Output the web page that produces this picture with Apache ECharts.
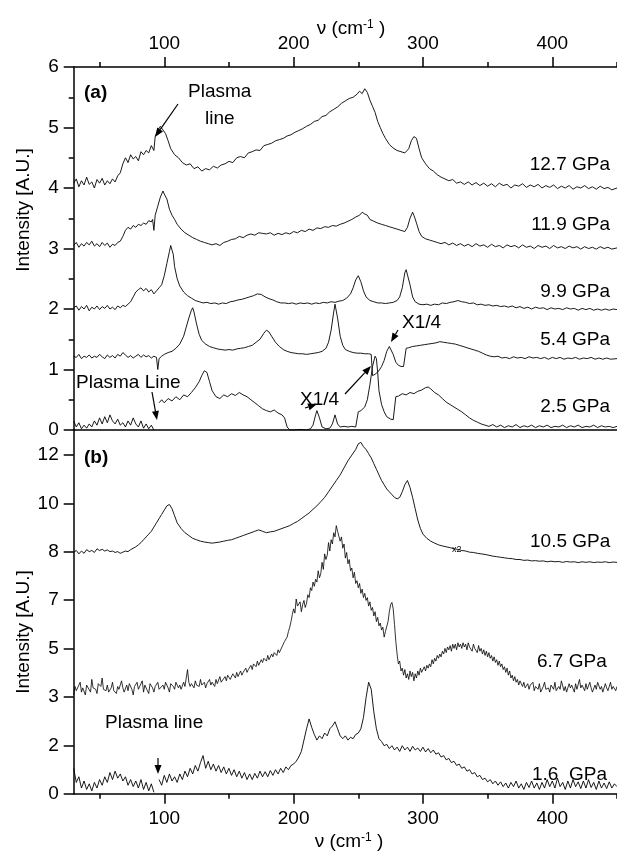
<!DOCTYPE html>
<html><head><meta charset="utf-8">
<script src="https://cdn.jsdelivr.net/npm/echarts@6/dist/echarts.min.js"></script>
<style>html,body{margin:0;padding:0;background:#fff}#c{width:617px;height:853px}</style>
</head><body><div id="c"></div>
<script>
// ---------- axis ticks ----------
const xMajor = [100, 200, 300, 400];
const xMinor = [50, 150, 250, 350, 450];
const yTicksB = [0, 1.714, 3.429, 5.143, 6.857, 8.571, 10.286, 12];
const yLabelsB = ['0', '2', '3', '5', '7', '8', '10', '12'];

// ---------- panel (a) spectra [ν, intensity] ----------
const s127 = [[30,4.08],[32,4.15],[34,4.02],[36,4.12],[38,4.05],[40,4.18],[42,4.06],[44,4.1],[46,4.0],[48,4.14],[50,4.08],[52,4.16],[54,4.05],[56,4.12],[58,4.07],[60,4.15],[62,4.1],[64,4.2],[66,4.25],[68,4.4],[70,4.5],[72,4.42],[74,4.55],[76,4.48],[78,4.52],[80,4.45],[82,4.6],[84,4.55],[86,4.62],[88,4.58],[90,4.7],[92,4.62],[93,4.85],[95,4.95],[97,5.02],[99,4.96],[101,4.9],[103,4.78],[105,4.65],[108,4.55],[111,4.5],[114,4.42],[117,4.38],[120,4.4],[123,4.32],[126,4.35],[129,4.28],[132,4.32],[135,4.3],[138,4.36],[141,4.33],[144,4.38],[147,4.4],[150,4.44],[153,4.42],[156,4.5],[159,4.52],[162,4.5],[165,4.58],[168,4.6],[171,4.63],[174,4.62],[177,4.7],[180,4.72],[183,4.74],[186,4.78],[189,4.8],[192,4.82],[195,4.86],[198,4.88],[201,4.92],[204,4.95],[207,4.98],[210,5.02],[213,5.05],[216,5.1],[219,5.12],[222,5.18],[225,5.2],[228,5.26],[231,5.3],[234,5.34],[237,5.4],[240,5.44],[243,5.48],[246,5.5],[249,5.55],[251,5.6],[253,5.56],[255,5.64],[257,5.58],[259,5.45],[261,5.35],[263,5.25],[265,5.1],[267,5.0],[269,4.9],[271,4.82],[274,4.72],[277,4.66],[280,4.62],[283,4.6],[286,4.58],[289,4.65],[291,4.78],[293,4.85],[295,4.82],[297,4.65],[299,4.5],[302,4.4],[305,4.32],[308,4.28],[311,4.22],[314,4.18],[317,4.15],[320,4.12],[323,4.14],[326,4.08],[329,4.1],[332,4.06],[335,4.1],[338,4.05],[341,4.09],[344,4.04],[347,4.08],[350,4.03],[353,4.07],[356,4.02],[359,4.08],[362,4.04],[365,4.06],[368,4.0],[371,4.05],[374,4.03],[377,4.07],[380,4.01],[383,4.05],[386,4.02],[389,4.06],[392,4.0],[395,4.04],[398,4.01],[401,4.05],[404,3.99],[407,4.03],[410,4.0],[413,4.04],[416,3.98],[419,4.02],[422,4.0],[425,4.04],[428,3.99],[431,4.02],[434,3.98],[437,4.03],[440,3.99],[443,4.01],[446,3.97],[450,4.0]];
const s119 = [[30,3.05],[32,3.1],[34,3.02],[36,3.08],[38,3.04],[40,3.1],[42,3.06],[44,3.12],[46,3.04],[48,3.08],[50,3.03],[52,3.1],[54,3.05],[56,3.09],[58,3.02],[60,3.07],[62,3.05],[64,3.1],[66,3.12],[68,3.2],[70,3.3],[72,3.35],[74,3.32],[76,3.38],[78,3.35],[80,3.4],[82,3.38],[84,3.42],[86,3.4],[88,3.46],[90,3.44],[91,3.48],[92,3.3],[93,3.55],[95,3.7],[97,3.85],[99,3.95],[100,3.9],[102,3.82],[104,3.65],[106,3.55],[108,3.48],[110,3.4],[113,3.32],[116,3.26],[119,3.22],[122,3.18],[125,3.15],[128,3.12],[131,3.1],[134,3.08],[137,3.06],[140,3.08],[143,3.05],[146,3.1],[149,3.12],[152,3.15],[155,3.16],[158,3.2],[161,3.18],[164,3.22],[167,3.24],[170,3.22],[173,3.26],[176,3.25],[179,3.24],[182,3.26],[185,3.22],[188,3.25],[191,3.23],[194,3.26],[197,3.24],[200,3.28],[203,3.26],[206,3.3],[209,3.28],[212,3.32],[215,3.3],[218,3.34],[221,3.33],[224,3.36],[227,3.35],[230,3.38],[233,3.37],[236,3.4],[239,3.42],[242,3.45],[245,3.48],[248,3.52],[251,3.55],[253,3.6],[255,3.57],[257,3.55],[259,3.48],[262,3.45],[265,3.42],[268,3.4],[271,3.38],[274,3.36],[277,3.34],[280,3.32],[283,3.3],[286,3.28],[288,3.35],[290,3.5],[292,3.6],[293,3.55],[295,3.42],[297,3.28],[299,3.2],[302,3.16],[305,3.14],[308,3.12],[311,3.1],[314,3.08],[317,3.1],[320,3.06],[323,3.09],[326,3.05],[329,3.08],[332,3.04],[335,3.07],[338,3.03],[341,3.08],[344,3.04],[347,3.06],[350,3.02],[353,3.07],[356,3.03],[359,3.05],[362,3.01],[365,3.06],[368,3.03],[371,3.05],[374,3.01],[377,3.06],[380,3.02],[383,3.04],[386,3.0],[389,3.05],[392,3.02],[395,3.04],[398,3.0],[401,3.05],[404,3.01],[407,3.03],[410,3.0],[413,3.04],[416,3.01],[419,3.03],[422,2.99],[425,3.03],[428,3.0],[431,3.02],[434,2.99],[437,3.03],[440,3.0],[443,3.02],[446,2.99],[450,3.01]];
const s99 = [[30,2.02],[32,2.05],[34,1.98],[36,2.04],[38,2.0],[40,2.06],[42,1.97],[44,2.03],[46,2.0],[48,2.05],[50,1.99],[52,2.04],[54,2.01],[56,2.06],[58,2.0],[60,2.03],[62,1.99],[64,2.05],[66,2.02],[68,2.06],[70,2.04],[72,2.08],[74,2.12],[76,2.2],[78,2.28],[80,2.32],[82,2.35],[84,2.3],[86,2.34],[88,2.28],[90,2.32],[92,2.25],[94,2.3],[96,2.35],[98,2.4],[100,2.55],[102,2.75],[104,2.95],[105,3.05],[106,3.02],[107,2.9],[108,2.7],[110,2.5],[112,2.38],[115,2.28],[118,2.22],[121,2.18],[124,2.14],[127,2.12],[130,2.1],[133,2.11],[136,2.09],[139,2.1],[142,2.08],[145,2.1],[148,2.09],[151,2.12],[154,2.13],[157,2.15],[160,2.16],[163,2.18],[166,2.2],[169,2.22],[172,2.25],[175,2.24],[178,2.2],[181,2.17],[184,2.15],[187,2.12],[190,2.1],[193,2.1],[196,2.09],[199,2.1],[202,2.08],[205,2.1],[208,2.09],[211,2.1],[214,2.08],[217,2.1],[220,2.09],[223,2.11],[226,2.1],[229,2.12],[232,2.11],[235,2.13],[238,2.14],[241,2.18],[244,2.25],[246,2.35],[248,2.48],[250,2.55],[252,2.45],[254,2.3],[256,2.2],[259,2.14],[262,2.12],[265,2.1],[268,2.1],[271,2.09],[274,2.1],[277,2.11],[280,2.14],[282,2.2],[284,2.35],[286,2.6],[287,2.65],[288,2.62],[290,2.4],[292,2.2],[294,2.12],[297,2.08],[300,2.07],[303,2.08],[306,2.06],[309,2.08],[312,2.07],[315,2.1],[318,2.09],[321,2.11],[324,2.12],[327,2.14],[330,2.12],[333,2.11],[336,2.09],[339,2.1],[342,2.07],[345,2.08],[348,2.06],[351,2.07],[354,2.05],[357,2.06],[360,2.04],[363,2.05],[366,2.03],[369,2.05],[372,2.02],[375,2.04],[378,2.01],[381,2.03],[384,2.0],[387,2.03],[390,2.01],[393,2.02],[396,1.99],[399,2.02],[402,2.0],[405,2.01],[408,1.99],[411,2.02],[414,2.0],[417,2.01],[420,1.98],[423,2.01],[426,1.99],[429,2.01],[432,1.98],[435,2.0],[438,1.98],[441,2.0],[444,1.98],[447,2.0],[450,1.99]];
const s54 = [[30,1.22],[32,1.2],[34,1.25],[36,1.18],[38,1.22],[40,1.2],[42,1.24],[44,1.19],[46,1.22],[48,1.2],[50,1.25],[52,1.21],[54,1.18],[56,1.24],[58,1.2],[60,1.23],[62,1.19],[64,1.25],[66,1.22],[68,1.28],[70,1.24],[72,1.2],[74,1.23],[76,1.19],[78,1.22],[80,1.25],[82,1.2],[84,1.24],[86,1.21],[88,1.23],[90,1.19],[92,1.22],[94,1.2],[95,1.0],[96,1.18],[98,1.22],[100,1.25],[103,1.28],[106,1.3],[109,1.35],[112,1.42],[115,1.55],[117,1.7],[119,1.85],[121,1.98],[122,2.02],[123,1.95],[125,1.75],[127,1.58],[129,1.48],[132,1.42],[135,1.38],[138,1.36],[141,1.34],[144,1.33],[147,1.32],[150,1.33],[153,1.32],[156,1.34],[159,1.35],[162,1.36],[165,1.38],[168,1.4],[171,1.45],[174,1.5],[177,1.6],[179,1.65],[181,1.62],[183,1.55],[186,1.45],[189,1.38],[192,1.33],[195,1.3],[198,1.28],[201,1.27],[204,1.26],[207,1.26],[210,1.25],[213,1.26],[216,1.27],[219,1.28],[222,1.3],[225,1.35],[227,1.45],[229,1.65],[231,1.95],[232,2.08],[233,2.05],[234,1.85],[236,1.55],[238,1.4],[240,1.33],[243,1.3],[246,1.28],[249,1.27],[252,1.27],[255,1.26],[258,1.26],[260,1.25],[261,0.9],[263,0.92],[266,0.98],[268,1.05],[270,1.15],[272,1.3],[274,1.38],[275,1.36],[277,1.25],[279,1.12],[281,1.07],[283,1.05],[285,1.05],[286,1.05],[287,1.35],[289,1.36],[292,1.38],[295,1.39],[298,1.4],[301,1.41],[304,1.42],[307,1.43],[310,1.44],[313,1.46],[316,1.45],[319,1.44],[322,1.43],[325,1.42],[328,1.4],[331,1.38],[334,1.36],[337,1.34],[340,1.32],[343,1.3],[346,1.27],[349,1.24],[352,1.22],[355,1.21],[358,1.22],[361,1.19],[364,1.2],[367,1.18],[370,1.21],[373,1.19],[376,1.2],[379,1.18],[382,1.21],[385,1.19],[388,1.2],[391,1.18],[394,1.2],[397,1.17],[400,1.2],[403,1.18],[406,1.2],[409,1.17],[412,1.19],[415,1.18],[418,1.2],[421,1.17],[424,1.19],[427,1.18],[430,1.2],[433,1.17],[436,1.19],[439,1.17],[442,1.19],[445,1.17],[450,1.18]];
const s25 = [[30,0.15],[32,0.05],[34,0.12],[36,0.02],[38,0.08],[40,0.03],[42,0.1],[44,0.05],[46,0.15],[48,0.08],[50,0.2],[52,0.1],[54,0.22],[56,0.12],[58,0.25],[60,0.15],[62,0.1],[64,0.18],[66,0.08],[68,0.12],[70,0.05],[72,0.15],[74,0.08],[76,0.2],[78,0.1],[80,0.05],[82,0.15],[84,0.03],[86,0.1],[88,0.02],[90,0.08],[92,0.0],[94,null],[96,0.45],[98,0.5],[100,0.45],[103,0.52],[106,0.48],[109,0.55],[112,0.5],[115,0.58],[118,0.55],[121,0.62],[124,0.7],[127,0.8],[129,0.9],[131,0.98],[133,0.95],[135,0.8],[137,0.65],[140,0.55],[143,0.52],[146,0.58],[149,0.55],[152,0.6],[155,0.57],[158,0.62],[161,0.58],[164,0.55],[167,0.5],[170,0.45],[173,0.4],[176,0.35],[179,0.32],[182,0.3],[185,0.33],[188,0.28],[191,0.25],[193,0.2],[195,0.05],[197,0.0],[200,0.0],[205,0.01],[210,0.0],[213,0.02],[215,0.08],[217,0.25],[218,0.32],[220,0.2],[222,0.05],[225,0.02],[228,0.03],[230,0.1],[232,0.25],[234,0.1],[236,0.05],[239,0.06],[242,0.05],[245,0.06],[248,0.05],[249,0.08],[250,0.3],[252,0.32],[255,0.38],[257,0.5],[259,0.75],[261,1.05],[263,1.22],[264,1.18],[265,0.95],[266,0.65],[268,0.42],[270,0.3],[272,0.22],[275,0.18],[277,0.17],[278,0.17],[279,0.55],[281,0.56],[284,0.6],[287,0.58],[290,0.62],[293,0.6],[296,0.64],[299,0.66],[302,0.7],[304,0.71],[306,0.68],[309,0.62],[312,0.58],[315,0.52],[318,0.46],[321,0.42],[324,0.38],[327,0.34],[330,0.3],[333,0.25],[336,0.2],[339,0.16],[342,0.13],[345,0.1],[348,0.08],[351,0.06],[354,0.09],[357,0.05],[360,0.08],[363,0.04],[366,0.07],[369,0.05],[372,0.09],[375,0.04],[378,0.07],[381,0.05],[384,0.08],[387,0.04],[390,0.07],[393,0.05],[396,0.08],[399,0.04],[402,0.06],[405,0.05],[408,0.08],[411,0.04],[414,0.07],[417,0.05],[420,0.08],[423,0.04],[426,0.06],[429,0.05],[432,0.08],[435,0.04],[438,0.07],[441,0.05],[444,0.06],[447,0.04],[450,0.06]];

// ---------- panel (b) spectra [ν, intensity] ----------
const s105 = [[30,8.55],[32,8.62],[34,8.5],[36,8.6],[38,8.52],[40,8.65],[42,8.58],[44,8.62],[46,8.55],[48,8.68],[50,8.62],[52,8.66],[54,8.6],[56,8.64],[58,8.58],[60,8.6],[62,8.55],[64,8.58],[66,8.52],[68,8.56],[70,8.6],[72,8.58],[74,8.65],[76,8.7],[78,8.75],[80,8.82],[82,8.9],[84,9.0],[86,9.1],[88,9.2],[90,9.3],[92,9.45],[94,9.6],[96,9.75],[98,9.9],[100,10.05],[102,10.2],[104,10.25],[106,10.1],[108,9.85],[110,9.6],[113,9.4],[116,9.25],[119,9.15],[122,9.05],[125,9.0],[128,8.95],[131,8.92],[134,8.9],[137,8.88],[140,8.9],[143,8.92],[146,8.95],[149,8.98],[152,9.0],[155,9.05],[158,9.1],[161,9.15],[164,9.2],[167,9.25],[170,9.3],[173,9.35],[176,9.3],[179,9.25],[182,9.28],[185,9.3],[188,9.35],[191,9.4],[194,9.45],[197,9.5],[200,9.58],[203,9.65],[206,9.75],[209,9.85],[212,9.95],[215,10.08],[218,10.2],[221,10.35],[224,10.5],[227,10.7],[230,10.9],[233,11.1],[236,11.3],[239,11.55],[242,11.8],[245,12.0],[248,12.2],[250,12.4],[252,12.45],[254,12.3],[256,12.2],[258,12.05],[260,11.9],[262,11.7],[264,11.5],[266,11.3],[268,11.1],[270,10.95],[272,10.8],[274,10.7],[276,10.6],[278,10.5],[280,10.45],[282,10.5],[284,10.7],[286,10.95],[288,11.1],[289,11.05],[290,10.85],[292,10.5],[294,10.1],[296,9.7],[298,9.4],[300,9.2],[303,9.05],[306,8.95],[309,8.88],[312,8.82],[315,8.78],[318,8.75],[321,8.72],[324,8.68],[327,8.66],[330,8.62],[333,8.6],[336,8.56],[339,8.55],[342,8.52],[345,8.5],[348,8.48],[351,8.45],[354,8.42],[357,8.4],[360,8.38],[363,8.36],[366,8.34],[369,8.33],[372,8.3],[375,8.3],[378,8.27],[381,8.28],[384,8.25],[387,8.26],[390,8.24],[393,8.25],[396,8.22],[399,8.24],[402,8.22],[405,8.23],[408,8.2],[411,8.23],[414,8.21],[417,8.22],[420,8.19],[423,8.22],[426,8.2],[429,8.22],[432,8.19],[435,8.21],[438,8.2],[441,8.22],[444,8.19],[447,8.21],[450,8.2]];
const s67 = [[30,3.5],[31,3.8],[32,3.65],[33,3.7],[35,3.95],[36,3.6],[37,3.75],[39,3.5],[40,3.85],[41,3.9],[43,3.6],[44,4.05],[45,3.75],[47,3.7],[48,3.55],[49,3.9],[51,3.8],[52,4.1],[53,3.7],[55,3.65],[56,3.85],[57,3.6],[59,3.75],[60,3.95],[61,3.65],[63,3.55],[64,3.8],[65,3.7],[67,4.0],[68,3.75],[69,3.6],[71,3.85],[72,3.65],[73,3.9],[75,3.7],[76,3.5],[77,3.8],[79,3.95],[80,3.7],[81,3.75],[83,4.0],[84,3.6],[85,3.85],[87,3.65],[88,3.55],[89,3.9],[91,3.75],[92,3.6],[93,3.8],[95,3.95],[96,3.7],[97,3.65],[99,3.85],[100,3.7],[101,3.95],[103,3.75],[104,3.6],[105,3.9],[107,3.8],[108,3.7],[109,3.95],[111,3.75],[112,3.85],[113,3.7],[115,3.95],[116,3.8],[117,4.1],[118,4.4],[119,3.95],[120,3.8],[121,3.9],[123,3.75],[124,4.0],[125,3.85],[127,3.8],[128,4.05],[129,3.85],[131,3.95],[132,3.75],[133,3.9],[135,4.05],[136,3.85],[137,3.95],[139,3.8],[140,4.05],[141,3.9],[143,4.15],[144,3.95],[145,3.9],[147,4.15],[148,4.0],[149,4.2],[151,4.05],[152,4.0],[153,4.25],[155,4.1],[156,4.3],[157,4.15],[159,4.35],[160,4.2],[161,4.3],[163,4.45],[164,4.3],[165,4.4],[167,4.55],[168,4.4],[169,4.6],[171,4.5],[172,4.7],[173,4.55],[175,4.75],[176,4.65],[177,4.8],[179,4.7],[180,4.9],[181,4.75],[183,4.95],[184,4.85],[185,5.0],[187,4.9],[188,5.1],[189,5.0],[191,5.2],[192,5.15],[193,5.4],[195,5.55],[196,5.75],[197,5.9],[198,6.1],[199,6.35],[200,6.55],[201,6.4],[202,6.9],[203,6.65],[204,6.6],[205,6.8],[206,6.45],[207,6.7],[208,6.85],[209,6.6],[210,6.75],[211,7.05],[212,6.95],[213,7.3],[214,7.2],[215,7.5],[216,7.35],[217,7.6],[218,7.5],[219,7.9],[220,7.65],[221,7.8],[222,8.2],[223,7.95],[224,8.5],[225,8.3],[226,8.45],[227,8.9],[228,8.6],[229,9.0],[230,8.85],[231,9.25],[232,9.1],[233,9.5],[234,9.3],[235,9.35],[236,8.95],[237,9.1],[238,8.7],[239,8.85],[240,8.35],[241,8.55],[242,8.15],[243,8.3],[244,7.9],[245,8.0],[246,7.65],[247,7.85],[248,7.45],[249,7.55],[250,7.3],[251,7.45],[252,7.1],[253,7.25],[254,6.95],[255,7.1],[256,6.85],[257,6.95],[258,6.65],[259,6.8],[260,6.5],[261,6.6],[262,6.3],[263,6.45],[264,6.1],[265,6.25],[266,5.95],[267,6.05],[268,5.8],[269,5.9],[270,5.55],[271,5.75],[272,5.8],[273,6.1],[274,6.45],[275,6.7],[276,6.78],[277,6.55],[278,6.0],[279,5.4],[280,4.95],[281,4.6],[282,4.7],[283,4.35],[284,4.45],[285,4.2],[286,4.4],[287,4.1],[288,4.25],[289,4.05],[290,4.35],[291,4.15],[292,4.3],[293,4.0],[294,4.25],[295,4.1],[296,4.35],[297,4.2],[298,4.45],[299,4.3],[300,4.35],[301,4.5],[302,4.35],[303,4.55],[304,4.45],[305,4.6],[306,4.5],[307,4.75],[308,4.6],[309,4.8],[310,4.7],[311,4.9],[312,4.8],[313,4.95],[314,4.85],[315,5.05],[316,4.95],[317,5.15],[318,5.0],[319,5.2],[320,5.1],[321,5.25],[322,5.05],[323,5.3],[324,5.15],[325,5.3],[326,5.1],[327,5.35],[328,5.2],[329,5.3],[330,5.15],[331,5.35],[332,5.2],[333,5.3],[334,5.1],[335,5.35],[336,5.2],[337,5.25],[338,5.05],[339,5.3],[340,5.15],[341,5.2],[342,5.0],[343,5.25],[344,5.05],[345,5.15],[346,4.95],[347,5.1],[348,4.9],[349,5.05],[350,4.85],[351,5.0],[352,4.8],[353,4.9],[354,4.7],[355,4.85],[356,4.65],[357,4.75],[358,4.55],[359,4.7],[360,4.5],[361,4.6],[362,4.4],[363,4.5],[364,4.3],[365,4.45],[366,4.2],[367,4.35],[368,4.1],[369,4.2],[370,4.0],[371,4.15],[372,3.95],[373,4.05],[374,3.85],[375,4.0],[377,3.8],[378,3.95],[379,3.75],[381,3.9],[382,3.7],[383,3.85],[385,3.95],[386,3.65],[387,3.8],[389,3.7],[390,3.9],[391,3.6],[393,3.8],[394,3.95],[395,3.7],[397,3.75],[398,3.6],[399,3.85],[401,3.7],[402,3.95],[403,3.65],[405,3.8],[406,3.7],[407,4.0],[409,3.65],[410,3.8],[411,3.6],[413,3.9],[414,3.75],[415,3.85],[417,3.6],[418,3.9],[419,3.7],[421,4.05],[422,3.75],[423,3.85],[425,3.65],[426,3.9],[427,3.7],[429,3.95],[430,3.75],[431,3.6],[433,3.85],[434,3.7],[435,3.95],[437,3.7],[438,3.8],[439,3.6],[441,3.9],[442,3.75],[443,3.65],[445,3.95],[446,3.7],[447,3.8],[449,3.65],[450,3.8]];
const s16 = [[30,0.9],[32,0.4],[34,0.6],[36,0.2],[38,0.45],[40,0.15],[42,0.35],[44,0.1],[46,0.4],[48,0.2],[50,0.5],[52,0.3],[54,0.6],[56,0.4],[58,0.75],[60,0.5],[62,0.8],[64,0.55],[66,0.7],[68,0.45],[70,0.6],[72,0.3],[74,0.5],[76,0.25],[78,0.45],[80,0.2],[82,0.5],[84,0.15],[86,0.4],[88,0.1],[90,0.35],[92,0.05],[94,null],[96,0.5],[98,0.3],[100,0.65],[102,0.4],[104,0.7],[106,0.45],[108,0.6],[110,0.4],[112,0.7],[114,0.5],[116,0.8],[118,0.6],[120,0.9],[122,0.7],[124,1.0],[126,0.8],[128,1.1],[130,1.35],[132,0.9],[134,1.15],[136,0.85],[138,1.05],[140,0.8],[142,1.0],[144,0.75],[146,0.95],[148,0.7],[150,0.9],[152,0.65],[154,0.85],[156,0.6],[158,0.8],[160,0.55],[162,0.75],[164,0.5],[166,0.7],[168,0.5],[170,0.72],[172,0.55],[174,0.8],[176,0.6],[178,0.78],[180,0.6],[182,0.82],[184,0.65],[186,0.85],[188,0.7],[190,0.9],[192,0.75],[194,0.95],[196,0.85],[198,1.0],[200,1.05],[202,1.15],[204,1.3],[206,1.5],[208,1.9],[210,2.3],[212,2.65],[214,2.35],[216,2.1],[218,1.9],[220,2.05],[222,1.95],[224,2.15],[226,2.05],[228,2.3],[230,2.4],[232,2.55],[234,2.3],[236,2.05],[238,1.95],[240,2.05],[242,1.9],[244,2.0],[246,1.95],[248,2.1],[250,2.15],[252,2.3],[254,2.7],[256,3.4],[258,3.95],[259,4.0],[260,3.7],[262,2.9],[264,2.3],[266,1.95],[268,1.85],[270,1.7],[272,1.75],[274,1.6],[276,1.7],[278,1.55],[280,1.65],[282,1.5],[284,1.7],[286,1.55],[288,1.65],[290,1.5],[292,1.68],[294,1.55],[296,1.62],[298,1.5],[300,1.65],[302,1.48],[304,1.6],[306,1.45],[308,1.55],[310,1.4],[312,1.45],[314,1.3],[316,1.35],[318,1.2],[320,1.25],[322,1.1],[324,1.15],[326,1.0],[328,1.05],[330,0.9],[332,0.95],[334,0.8],[336,0.85],[338,0.7],[340,0.75],[342,0.6],[344,0.65],[346,0.5],[348,0.55],[350,0.42],[352,0.5],[354,0.35],[356,0.45],[358,0.3],[360,0.42],[362,0.25],[364,0.38],[366,0.2],[368,0.4],[370,0.25],[372,0.45],[374,0.2],[376,0.35],[378,0.15],[380,0.4],[382,0.22],[384,0.45],[386,0.2],[388,0.38],[390,0.15],[392,0.4],[394,0.2],[396,0.5],[398,0.25],[400,0.45],[402,0.2],[404,0.55],[406,0.25],[408,0.4],[410,0.15],[412,0.45],[414,0.2],[416,0.5],[418,0.25],[420,0.42],[422,0.18],[424,0.45],[426,0.2],[428,0.5],[430,0.22],[432,0.4],[434,0.15],[436,0.45],[438,0.2],[440,0.38],[442,0.18],[444,0.42],[446,0.2],[448,0.35],[450,0.25]];

const FONT = "'Liberation Sans', Arial, Helvetica, sans-serif";
const chart = echarts.init(document.getElementById('c'), null, {renderer: 'canvas'});

const LEFT = 73.7, TOPA = 67, MIDY = 430, BOTY = 793.7;
const axLine = {show: true, onZero: false, lineStyle: {color: '#000', width: 1.5}};
const noLine = {show: false, onZero: false};
const tickStyle = {color: '#000', width: 1.5};
const lbl = {color: '#000', fontSize: 19, fontFamily: FONT};

function line(data, xi, yi, w) {
  return {type: 'line', xAxisIndex: xi, yAxisIndex: yi, data: data,
    showSymbol: false, symbol: 'none', connectNulls: false, silent: true, animation: false,
    lineStyle: {color: '#000', width: w || 0.9}};
}

const option = {
  animation: false,
  backgroundColor: '#fff',
  grid: [
    {left: LEFT, top: TOPA, width: 617 - LEFT, height: MIDY - TOPA},
    {left: LEFT, top: MIDY, width: 617 - LEFT, height: BOTY - MIDY}
  ],
  xAxis: [
    {gridIndex: 0, type: 'value', position: 'top', min: 30, max: 450,
      axisLine: axLine, splitLine: {show: false},
      axisTick: {show: true, customValues: xMajor, length: 10, inside: false, lineStyle: tickStyle},
      axisLabel: Object.assign({customValues: xMajor, margin: 14}, lbl)},
    {gridIndex: 1, type: 'value', position: 'bottom', min: 30, max: 450,
      axisLine: axLine, splitLine: {show: false},
      axisTick: {show: true, customValues: xMajor, length: 10, inside: false, lineStyle: tickStyle},
      axisLabel: Object.assign({customValues: xMajor, margin: 16}, lbl)},
    {gridIndex: 0, type: 'value', position: 'top', min: 30, max: 450,
      axisLine: noLine, splitLine: {show: false},
      axisTick: {show: true, customValues: xMinor, length: 5, inside: false, lineStyle: tickStyle},
      axisLabel: {show: false}},
    {gridIndex: 1, type: 'value', position: 'bottom', min: 30, max: 450,
      axisLine: noLine, splitLine: {show: false},
      axisTick: {show: true, customValues: xMinor, length: 5, inside: false, lineStyle: tickStyle},
      axisLabel: {show: false}},
    {gridIndex: 0, type: 'value', position: 'bottom', min: 30, max: 450,
      axisLine: axLine, splitLine: {show: false}, axisTick: {show: false}, axisLabel: {show: false}}
  ],
  yAxis: [
    {gridIndex: 0, type: 'value', min: 0, max: 6, interval: 1,
      axisLine: axLine, splitLine: {show: false},
      axisTick: {show: true, length: 10, inside: false, lineStyle: tickStyle},
      minorTick: {show: true, splitNumber: 2, length: 5, lineStyle: tickStyle},
      axisLabel: Object.assign({margin: 15}, lbl)},
    {gridIndex: 1, type: 'value', min: 0, max: 12.89,
      axisLine: axLine, splitLine: {show: false},
      axisTick: {show: true, customValues: yTicksB, length: 10, inside: false, lineStyle: tickStyle},
      axisLabel: Object.assign({customValues: yTicksB, margin: 15,
        formatter: function (v) {
          let k = 0, best = 1e9;
          yTicksB.forEach(function (t, i) { const d = Math.abs(t - v); if (d < best) { best = d; k = i; } });
          return yLabelsB[k];
        }}, lbl)}
  ],
  series: [
    line(s127, 0, 0), line(s119, 0, 0), line(s99, 0, 0), line(s54, 0, 0), line(s25, 0, 0),
    line(s105, 1, 1), line(s67, 1, 1, 0.8), line(s16, 1, 1)
  ]
};
chart.setOption(option);

function txt(text, x, y, opts, rot) {
  return {type: 'text', silent: true, z: 100, x: x, y: y, rotation: rot || 0,
    style: Object.assign({text: text, fontSize: 19, fontFamily: FONT, fill: '#000', textAlign: 'left', textVerticalAlign: 'middle'}, opts || {})};
}
function arrow(x1, y1, x2, y2) {
  const a = Math.atan2(y2 - y1, x2 - x1), L = 9, W = 3.5;
  const bx = x2 - L * Math.cos(a), by = y2 - L * Math.sin(a);
  const px = -Math.sin(a) * W, py = Math.cos(a) * W;
  return [
    {type: 'line', silent: true, z: 100, shape: {x1: x1, y1: y1, x2: bx, y2: by}, style: {stroke: '#000', lineWidth: 1.2}},
    {type: 'polygon', silent: true, z: 100, shape: {points: [[x2, y2], [bx + px, by + py], [bx - px, by - py]]}, style: {fill: '#000'}}
  ];
}
const nuRich = {s: {fontSize: 12, fontFamily: FONT, fill: '#000', verticalAlign: 'top', padding: [0, 0, 8, 0]}};

const g = [];
g.push(txt('ν (cm{s|-1} )', 351, 29, {textAlign: 'center', rich: nuRich}));
g.push(txt('ν (cm{s|-1} )', 349, 842, {textAlign: 'center', rich: nuRich}));
g.push(txt('(a)', 84, 93, {fontWeight: 'bold'}));
g.push(txt('(b)', 84, 458, {fontWeight: 'bold'}));
g.push(txt('Plasma', 188, 92));
g.push(txt('line', 205, 119));
g.push.apply(g, arrow(178, 104, 155, 137));
g.push(txt('Plasma Line', 76, 383));
g.push.apply(g, arrow(152, 392, 157, 420));
g.push(txt('X1/4', 300, 400));
g.push.apply(g, arrow(305, 408, 317, 404));
g.push.apply(g, arrow(345, 394, 371, 366));
g.push(txt('X1/4', 402, 323));
g.push.apply(g, arrow(398, 330, 391, 342));
g.push(txt('Plasma line', 105, 723));
g.push.apply(g, arrow(158, 758, 158, 774));
g.push(txt('12.7 GPa', 610, 165, {textAlign: 'right'}));
g.push(txt('11.9 GPa', 610, 225, {textAlign: 'right'}));
g.push(txt('9.9 GPa', 610, 292, {textAlign: 'right'}));
g.push(txt('5.4 GPa', 610, 340, {textAlign: 'right'}));
g.push(txt('2.5 GPa', 610, 407, {textAlign: 'right'}));
g.push(txt('10.5 GPa', 530, 542));
g.push(txt('6.7 GPa', 537, 662));
g.push(txt('1.6  GPa', 532, 775));
g.push(txt('x2', 452, 550, {fontSize: 9}));
g.push(txt('Intensity [A.U.]', 24, 210, {textAlign: 'center'}, Math.PI / 2));
g.push(txt('Intensity [A.U.]', 24, 632, {textAlign: 'center'}, Math.PI / 2));
chart.setOption({graphic: {elements: g}});
</script>
</body></html>
